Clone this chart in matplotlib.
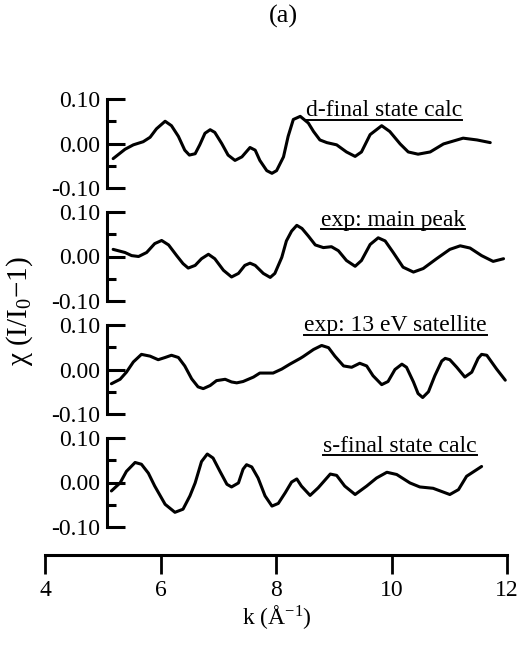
import matplotlib
matplotlib.use("Agg")
import matplotlib.pyplot as plt
from matplotlib.lines import Line2D
from matplotlib.ticker import FixedLocator, FixedFormatter

plt.rcParams['font.family'] = ['Liberation Serif', 'DejaVu Serif']
plt.rcParams['mathtext.fontset'] = 'custom'
plt.rcParams['mathtext.rm'] = 'Liberation Serif'
plt.rcParams['mathtext.it'] = 'Liberation Serif:italic'

# ---- data ----
k_d = [5.18, 5.385, 5.53, 5.70, 5.82, 5.93, 6.08, 6.19, 6.31, 6.42, 6.50, 6.60, 6.68,
       6.77, 6.86, 6.94, 7.06, 7.17, 7.29, 7.41, 7.55, 7.64, 7.72, 7.84, 7.93, 8.01,
       8.13, 8.21, 8.30, 8.42, 8.56, 8.65, 8.76, 8.88, 9.05, 9.22, 9.37, 9.48, 9.63,
       9.83, 9.97, 10.15, 10.29, 10.46, 10.67, 10.90, 11.24, 11.48, 11.71]
chi_d = [-0.034, -0.013, -0.003, 0.004, 0.014, 0.033, 0.050, 0.040, 0.016, -0.015,
         -0.026, -0.023, -0.003, 0.023, 0.031, 0.025, 0.000, -0.026, -0.038, -0.030,
         -0.009, -0.015, -0.038, -0.061, -0.067, -0.061, -0.030, 0.016, 0.054, 0.061,
         0.046, 0.027, 0.008, 0.002, -0.003, -0.019, -0.029, -0.019, 0.020, 0.040,
         0.027, -0.001, -0.019, -0.024, -0.019, -0.001, 0.012, 0.008, 0.002]

k_main = [5.18, 5.385, 5.50, 5.62, 5.76, 5.90, 6.02, 6.14, 6.28, 6.39, 6.48, 6.60,
          6.71, 6.83, 6.94, 7.09, 7.23, 7.35, 7.46, 7.55, 7.64, 7.78, 7.90, 7.98, 8.10,
          8.18, 8.27, 8.36, 8.45, 8.56, 8.68, 8.82, 8.96, 9.08, 9.22, 9.37, 9.48, 9.63,
          9.77, 9.89, 10.03, 10.20, 10.38, 10.55, 10.78, 11.01, 11.19, 11.36, 11.56,
          11.76, 11.94]
chi_main = [0.016, 0.009, 0.002, 0.000, 0.009, 0.029, 0.036, 0.026, 0.002, -0.016,
            -0.026, -0.020, -0.005, 0.005, -0.005, -0.031, -0.046, -0.038, -0.020,
            -0.015, -0.020, -0.038, -0.047, -0.038, -0.002, 0.035, 0.057, 0.070, 0.063,
            0.046, 0.026, 0.020, 0.022, 0.013, -0.009, -0.022, -0.009, 0.027, 0.042,
            0.035, 0.009, -0.024, -0.035, -0.027, -0.005, 0.016, 0.024, 0.019, 0.002,
            -0.011, -0.005]

k_sat = [5.15, 5.30, 5.41, 5.53, 5.67, 5.82, 5.96, 6.08, 6.19, 6.31, 6.42, 6.54, 6.65,
         6.74, 6.86, 6.97, 7.12, 7.23, 7.32, 7.43, 7.61, 7.72, 7.95, 8.10, 8.24, 8.42,
         8.47, 8.65, 8.79, 8.91, 9.02, 9.17, 9.31, 9.45, 9.57, 9.68, 9.83, 9.94, 10.06,
         10.18, 10.26, 10.38, 10.46, 10.54, 10.64, 10.75, 10.87, 10.93, 11.01, 11.13,
         11.27, 11.39, 11.50, 11.56, 11.65, 11.82, 11.97]
chi_sat = [-0.032, -0.022, -0.006, 0.017, 0.034, 0.030, 0.022, 0.027, 0.032, 0.027,
           0.008, -0.021, -0.039, -0.043, -0.036, -0.025, -0.022, -0.028, -0.030,
           -0.027, -0.017, -0.008, -0.008, 0.001, 0.012, 0.025, 0.029, 0.045, 0.054,
           0.049, 0.030, 0.008, 0.005, 0.014, 0.008, -0.014, -0.034, -0.027, 0.000,
           0.012, 0.005, -0.028, -0.054, -0.063, -0.050, -0.014, 0.019, 0.025, 0.022,
           0.005, -0.017, -0.006, 0.025, 0.034, 0.032, 0.001, -0.024]

k_s = [5.15, 5.30, 5.41, 5.56, 5.67, 5.79, 5.90, 6.08, 6.25, 6.39, 6.51, 6.60, 6.71,
       6.81, 6.91, 7.03, 7.15, 7.23, 7.35, 7.43, 7.49, 7.58, 7.69, 7.81, 7.93, 8.04,
       8.16, 8.27, 8.36, 8.44, 8.59, 8.73, 8.94, 9.05, 9.19, 9.37, 9.57, 9.74, 9.92,
       10.09, 10.32, 10.49, 10.72, 11.01, 11.16, 11.30, 11.56]
chi_s = [-0.019, -0.001, 0.025, 0.045, 0.041, 0.021, -0.008, -0.049, -0.067, -0.060,
         -0.030, -0.001, 0.047, 0.064, 0.055, 0.025, -0.004, -0.010, -0.001, 0.030,
         0.040, 0.035, 0.010, -0.030, -0.053, -0.047, -0.023, 0.001, 0.008, -0.008,
         -0.029, -0.012, 0.019, 0.016, -0.008, -0.027, -0.008, 0.010, 0.023, 0.018,
         -0.001, -0.010, -0.013, -0.027, -0.016, 0.014, 0.036]

series_k = [k_d, k_main, k_sat, k_s]
series_chi = [chi_d, chi_main, chi_sat, chi_s]
labels = ["d-final state calc", "exp: main peak", "exp: 13 eV satellite", "s-final state calc"]

yticks_major = [-0.10, 0.00, 0.10]
yticklabels = ["-0.10", "0.00", "0.10"]
yticks_minor = [-0.05, 0.05]
xticks = [4, 6, 8, 10, 12]
xticklabels = ["4", "6", "8", "10", "12"]

# ---- layout ----
W, H = 529, 658
fig = plt.figure(figsize=(W / 100, H / 100), dpi=100)
left_px, right_px = 45, 507
tops = [99, 212, 325, 438]
hpx = 89
label_right = [462, 465, 487, 477]
label_y = [111, 221, 326, 446]

axes = []
for i in range(4):
    ax = fig.add_axes([left_px / W, 1 - (tops[i] + hpx) / H, (right_px - left_px) / W, hpx / H])
    ax.plot(series_k[i], series_chi[i], color='black', lw=2.2, solid_joinstyle='round',
            solid_capstyle='round', clip_on=False)
    ax.set_xlim(4, 12)
    ax.set_ylim(-0.10, 0.10)
    ax.patch.set_alpha(0)
    for s in ['top', 'right']:
        ax.spines[s].set_visible(False)
    ax.spines['left'].set_position(('data', 5.08))
    ax.spines['left'].set_linewidth(2.2)
    ax.yaxis.set_major_locator(FixedLocator(yticks_major))
    ax.yaxis.set_major_formatter(FixedFormatter(yticklabels))
    ax.yaxis.set_minor_locator(FixedLocator(yticks_minor))
    ax.tick_params(axis='y', which='major', direction='in', length=13, width=2.2,
                   labelsize=17, pad=5)
    ax.tick_params(axis='y', which='minor', direction='in', length=6.5, width=2.2)
    if i < 3:
        ax.spines['bottom'].set_visible(False)
        ax.set_xticks([])
    else:
        ax.spines['bottom'].set_position(('outward', 20))
        ax.spines['bottom'].set_linewidth(2.2)
        ax.set_xticks(xticks)
        ax.set_xticklabels(xticklabels)
        ax.tick_params(axis='x', direction='out', length=14, width=2.0, labelsize=17, pad=4)
    axes.append(ax)

# labels with underline
txts = []
for i in range(4):
    t = fig.text(label_right[i] / W, 1 - label_y[i] / H, labels[i], ha='right', va='center',
                 fontsize=17)
    txts.append(t)

fig.text(283 / W, 1 - 16 / H, "(a)", ha='center', va='center', fontsize=19)
fig.text(20 / W, 1 - 311 / H, "χ (I/I$_0$−1)", rotation=90, ha='center', va='center',
         fontsize=21)
fig.text(277 / W, 1 - 617 / H, "k (Å$^{\\mathregular{-1}}$)", ha='center', va='center', fontsize=17)

fig.canvas.draw()
r = fig.canvas.get_renderer()
for t in txts:
    bb = t.get_window_extent(renderer=r)
    y = bb.y0 + 2
    fig.add_artist(Line2D([bb.x0 / W, bb.x1 / W], [y / H, y / H], color='black', lw=1.4,
                          transform=fig.transFigure))

fig.savefig("out.png", dpi=100)
